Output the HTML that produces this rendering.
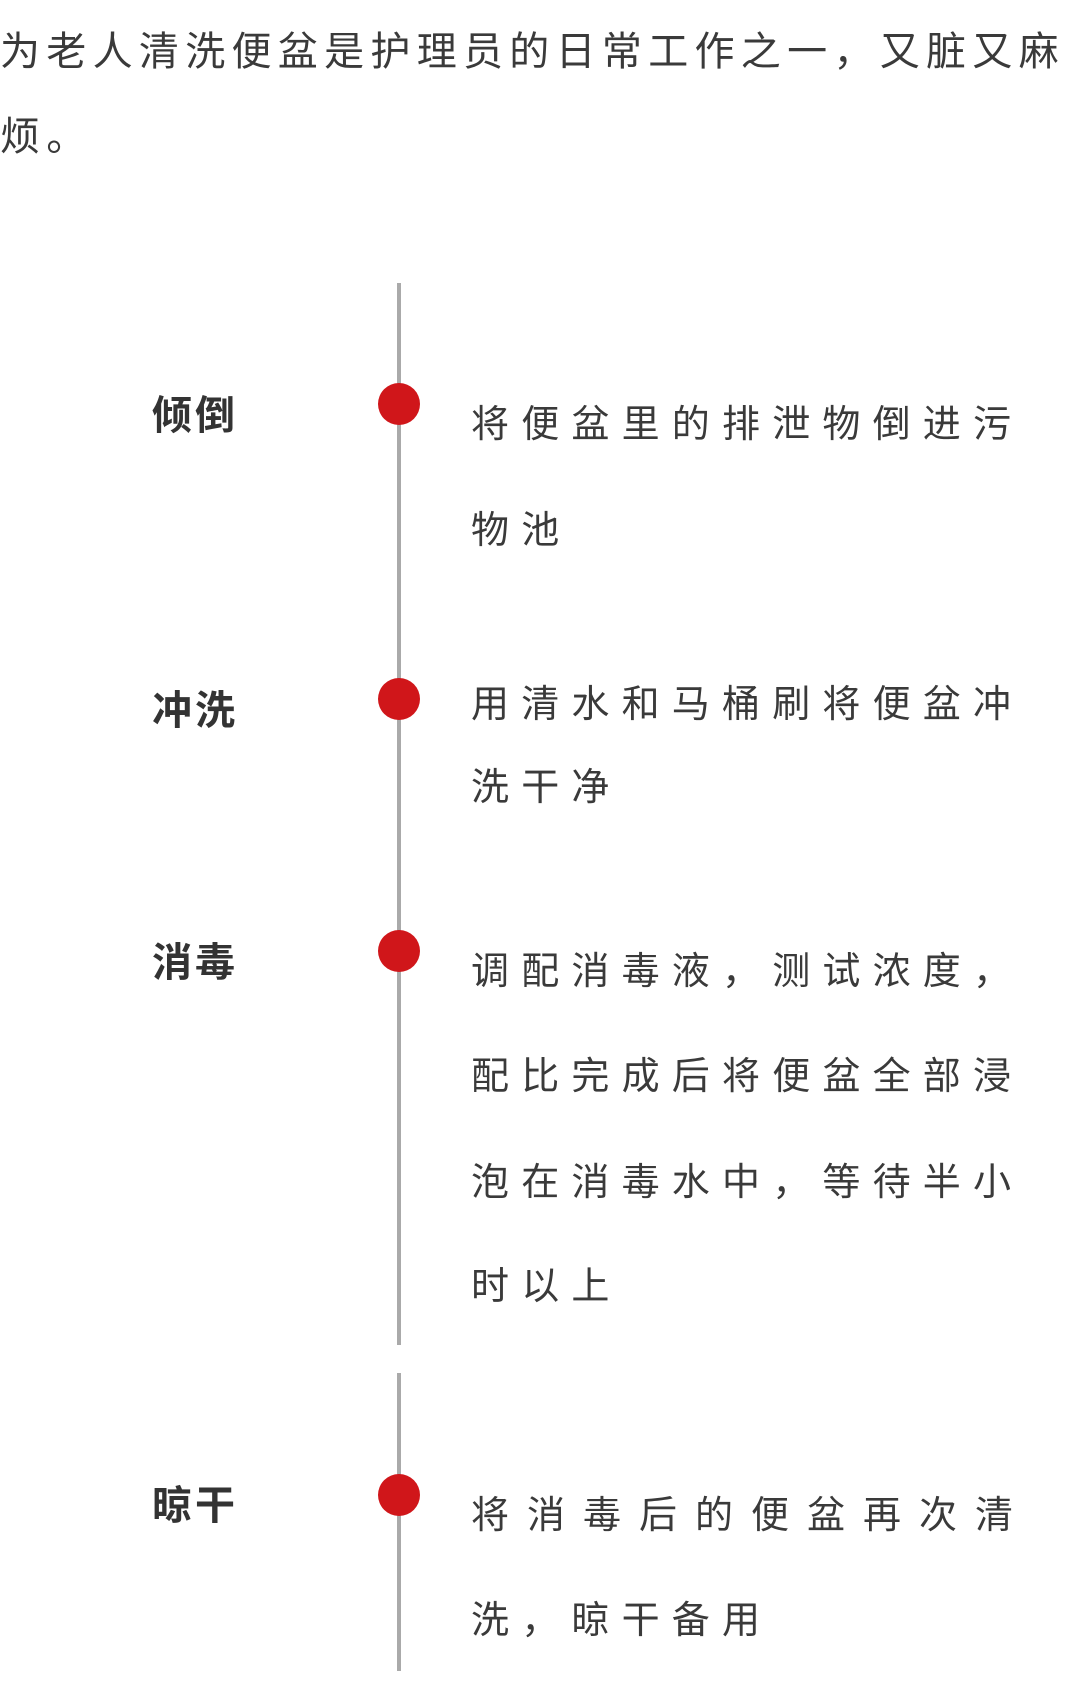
<!DOCTYPE html>
<html><head><meta charset="utf-8"><style>
body{margin:0;width:1080px;height:1701px;background:#fff;position:relative;overflow:hidden;font-family:"Liberation Sans","Noto Sans CJK SC",sans-serif;color:#3a3a3a}
.t{position:absolute;height:50px;line-height:50px;white-space:nowrap;font-size:40px}
.h{letter-spacing:6.3px;left:0}
.l{left:152px;font-weight:bold;letter-spacing:3px;color:#333}
.r{left:471px;letter-spacing:12.2px;font-size:38px}
.v{position:absolute;left:397px;width:4px;background:#aaa}
.d{position:absolute;left:378px;width:42px;height:42px;border-radius:50%;background:#d0161a}
</style></head><body>
<div class="t h" style="top:27px">为老人清洗便盆是护理员的日常工作之一，又脏又麻</div>
<div class="t h" style="top:112px">烦。</div>
<div class="v" style="top:283px;height:1062px"></div>
<div class="v" style="top:1373px;height:298px"></div>
<div class="d" style="top:383px"></div>
<div class="d" style="top:678px"></div>
<div class="d" style="top:930px"></div>
<div class="d" style="top:1474px"></div>
<div class="t l" style="top:391px">倾倒</div>
<div class="t l" style="top:686px">冲洗</div>
<div class="t l" style="top:938px">消毒</div>
<div class="t l" style="top:1481px">晾干</div>
<div class="t r" style="top:400px">将便盆里的排泄物倒进污</div>
<div class="t r" style="top:506px">物池</div>
<div class="t r" style="top:680px">用清水和马桶刷将便盆冲</div>
<div class="t r" style="top:763px">洗干净</div>
<div class="t r" style="top:947px">调配消毒液，测试浓度，</div>
<div class="t r" style="top:1052px">配比完成后将便盆全部浸</div>
<div class="t r" style="top:1158px">泡在消毒水中，等待半小</div>
<div class="t r" style="top:1262px">时以上</div>
<div class="t r" style="top:1491px;letter-spacing:18px">将消毒后的便盆再次清</div>
<div class="t r" style="top:1596px">洗，晾干备用</div>
</body></html>
